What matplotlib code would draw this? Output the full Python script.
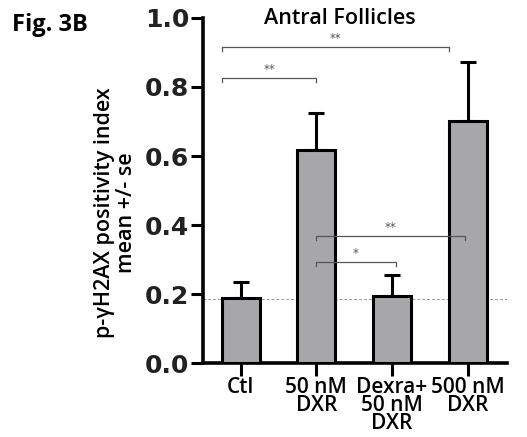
import matplotlib
matplotlib.use("Agg")
import matplotlib.pyplot as plt

categories = ["Ctl", "50 nM\nDXR", "Dexra+\n50 nM\nDXR", "500 nM\nDXR"]
means = [0.19, 0.617, 0.194, 0.70]
errors = [0.045, 0.108, 0.061, 0.172]
baseline = 0.186
# brackets: (x_start, x_end, y, label)
brackets = [(-0.25, 2.75, 0.916, "**"),
            (-0.25, 1.0, 0.826, "**"),
            (1.0, 2.97, 0.368, "**"),
            (1.0, 2.05, 0.293, "*")]

fig = plt.figure(figsize=(5.27, 4.37), dpi=100)
ax = fig.add_axes([0.385, 0.169, 0.577, 0.79])

x = list(range(len(categories)))
ax.bar(x, means, width=0.5, color="#a7a7aa", edgecolor="black", linewidth=2.2, zorder=3)
ax.errorbar(x, means, yerr=[[0] * len(errors), errors], fmt="none", ecolor="black",
            elinewidth=2.2, capsize=5.5, capthick=2.2, zorder=2)

ax.axhline(baseline, color="#999999", linestyle=(0, (3, 2)), linewidth=0.7, zorder=1)

for x0, x1, y, lab in brackets:
    d = 0.012
    ax.plot([x0, x0, x1, x1], [y - d, y, y, y - d], color="#555555", linewidth=0.9, zorder=4)
    ax.text((x0 + x1) / 2, y + 0.005, lab, ha="center", va="bottom", fontsize=8.5,
            color="#555555")

ax.set_xlim(-0.5, 3.52)
ax.set_ylim(0, 1.0)
ax.set_yticks([0.0, 0.2, 0.4, 0.6, 0.8, 1.0])
ax.set_yticklabels(["0.0", "0.2", "0.4", "0.6", "0.8", "1.0"], fontsize=18,
                   fontweight="bold", color="#222222")
ax.set_xticks(x)
ax.set_xticklabels(categories, fontsize=15, family="Open Sans", fontweight="semibold",
                   linespacing=0.8)
ax.tick_params(axis="y", direction="out", length=9, width=2.2, pad=1)
ax.tick_params(axis="x", direction="out", length=9, width=2.2, pad=1)

for s in ["top", "right"]:
    ax.spines[s].set_visible(False)
for s in ["left", "bottom"]:
    ax.spines[s].set_linewidth(2.6)

ax.set_ylabel("p-γH2AX positivity index\nmean +/- se", fontsize=15.5,
              family="Open Sans", fontweight="semibold", linespacing=1.05)
ax.yaxis.set_label_coords(-0.218, 0.435)

fig.text(0.645, 0.958, "Antral Follicles", ha="center", va="center", fontsize=15.5,
         family="Open Sans", fontweight="semibold")
fig.text(0.022, 0.943, "Fig. 3B", ha="left", va="center", fontsize=17,
         family="Open Sans", fontweight="bold")

fig.savefig("out.png", dpi=100)
